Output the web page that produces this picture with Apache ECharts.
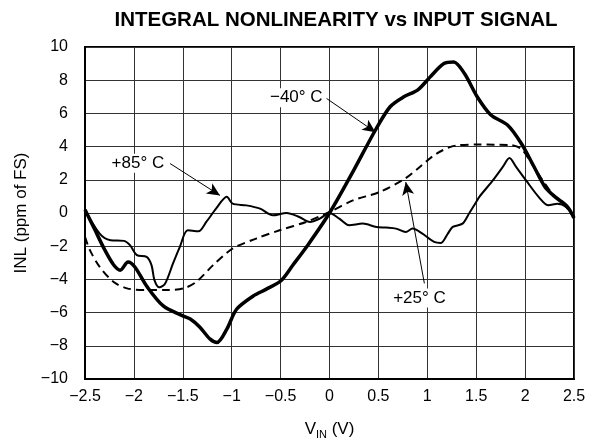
<!DOCTYPE html>
<html>
<head>
<meta charset="utf-8">
<script src="https://cdn.jsdelivr.net/npm/echarts@6/dist/echarts.min.js"></script>
<style>html,body{margin:0;padding:0;background:#fff}#c{width:600px;height:445px}</style>
</head>
<body>
<div id="c"></div>
<script>
// INL (ppm of FS) vs VIN (V)
const inlMinus40 = [[-2.5,0.2],[-2.4,-1.0],[-2.3,-2.2],[-2.21,-3.1],[-2.14,-3.45],[-2.06,-2.95],[-1.99,-3.25],[-1.87,-4.4],[-1.7,-5.6],[-1.5,-6.2],[-1.42,-6.4],[-1.33,-6.85],[-1.22,-7.6],[-1.15,-7.8],[-1.05,-7.0],[-0.95,-5.8],[-0.78,-5.0],[-0.65,-4.6],[-0.5,-4.1],[-0.37,-3.1],[-0.23,-2.0],[0,0],[0.25,2.6],[0.47,5.0],[0.62,6.4],[0.76,7.0],[0.9,7.4],[1.03,8.2],[1.17,9.0],[1.27,9.1],[1.38,8.4],[1.51,7.0],[1.65,5.9],[1.82,5.3],[1.96,4.2],[2.09,2.8],[2.2,1.6],[2.3,1.0],[2.43,0.4],[2.5,-0.3]];
const inlPlus85 = [[-2.5,0.2],[-2.35,-1.24],[-2.24,-1.64],[-2.1,-1.68],[-2.04,-1.94],[-1.97,-2.54],[-1.87,-2.64],[-1.82,-3.14],[-1.79,-4.04],[-1.74,-4.48],[-1.68,-4.24],[-1.6,-3.04],[-1.53,-2.04],[-1.45,-1.04],[-1.34,-1.1],[-1.26,-0.54],[-1.16,0.26],[-1.05,0.98],[-0.99,0.56],[-0.85,0.46],[-0.71,0.26],[-0.58,-0.14],[-0.44,0],[-0.31,-0.24],[-0.2,-0.54],[-0.1,-0.34],[0,0],[0.1,-0.34],[0.2,-0.74],[0.34,-0.64],[0.48,-0.84],[0.58,-0.88],[0.68,-0.94],[0.78,-1.14],[0.85,-0.94],[0.95,-1.24],[1.07,-1.74],[1.14,-1.8],[1.21,-1.24],[1.26,-0.84],[1.36,-0.64],[1.43,0],[1.5,0.66],[1.53,0.96],[1.67,1.96],[1.77,2.76],[1.84,3.32],[1.91,2.76],[2.01,1.96],[2.14,0.96],[2.24,0.46],[2.33,0.56],[2.42,0.36],[2.5,-0.3]];
const inlPlus25 = [[-2.5,-1.44],[-2.45,-2.24],[-2.35,-3.24],[-2.21,-4.14],[-2.07,-4.54],[-1.87,-4.64],[-1.66,-4.64],[-1.49,-4.54],[-1.36,-4.14],[-1.19,-3.14],[-0.99,-2.14],[-0.75,-1.54],[-0.51,-1.04],[-0.24,-0.54],[0,0.06],[0.24,0.76],[0.51,1.26],[0.77,2.06],[0.92,2.76],[1.09,3.56],[1.29,4.06],[1.53,4.12],[1.84,4.1],[1.96,3.86],[2.07,2.96],[2.18,1.96],[2.28,1.16],[2.42,0.36],[2.5,-0.3]];

// annotations: label text, label anchor [x,y], arrow start, arrow end (data units)
const annoText = ['\u221240\u00b0 C', '+85\u00b0 C', '+25\u00b0 C'];
const annoLabelAt = [[-0.05,6.95],[-1.67,3.0],[0.92,-5.12]];
const annoLabelPos = ['left','left','inside'];
const annoArrowFrom = [[-0.03,6.9],[-1.63,2.98],[0.97,-4.24]];
const annoArrowTo = [[0.47,4.87],[-1.12,1.06],[0.78,1.86]];

const FONT = 'Liberation Sans, Arial, Helvetica, sans-serif';
const fmt = v => String(v).replace('-', '\u2212');

const chart = echarts.init(document.getElementById('c'), null, {renderer:'canvas'});
chart.setOption({
  animation: false,
  backgroundColor: '#fff',
  title: {
    text: 'INTEGRAL NONLINEARITY vs INPUT SIGNAL',
    left: 331, top: 5, textAlign: 'center',
    textStyle: {fontFamily: FONT, fontSize: 20.5, fontWeight: 'bold', color: '#000'}
  },
  grid: {left: 85, right: 26, top: 47, bottom: 66, show: true, borderColor: '#000', borderWidth: 2, backgroundColor: 'transparent'},
  xAxis: {
    type: 'value', min: -2.5, max: 2.5, interval: 0.5,
    axisLine: {show: true, onZero: false, lineStyle: {color: '#000', width: 2}},
    axisTick: {show: false},
    splitLine: {show: true, lineStyle: {color: '#333', width: 1}},
    axisLabel: {fontFamily: FONT, fontSize: 16, color: '#000', margin: 10, formatter: fmt},
    name: '{v|V}{s|IN}{v| (V)}', nameLocation: 'middle', nameGap: 40,
    nameTextStyle: {fontFamily: FONT, color: '#000', rich: {
      v: {fontFamily: FONT, fontSize: 17, color: '#000'},
      s: {fontFamily: FONT, fontSize: 11, color: '#000', padding: [10, 0, 0, 0]}
    }}
  },
  yAxis: {
    type: 'value', min: -10, max: 10, interval: 2,
    axisLine: {show: true, onZero: false, lineStyle: {color: '#000', width: 2}},
    axisTick: {show: false},
    splitLine: {show: true, lineStyle: {color: '#333', width: 1}},
    axisLabel: {fontFamily: FONT, fontSize: 16, color: '#000', margin: 17, formatter: fmt},
    name: 'INL (ppm of FS)', nameLocation: 'middle', nameGap: 54,
    nameTextStyle: {fontFamily: FONT, fontSize: 17, color: '#000'}
  },
  series: [
    {type: 'line', name: '-40', data: inlMinus40, smooth: 0.3, showSymbol: false, symbol: 'none',
     lineStyle: {color: '#000', width: 3.5}, z: 3},
    {type: 'line', name: '+85', data: inlPlus85, smooth: 0.3, showSymbol: false, symbol: 'none',
     lineStyle: {color: '#000', width: 2}, z: 2},
    {type: 'line', name: '+25', data: inlPlus25, smooth: 0.3, showSymbol: false, symbol: 'none',
     lineStyle: {color: '#000', width: 2, type: [8, 5]}, z: 2,
     markLine: {
       silent: true, animation: false, symbol: ['none', 'arrow'], symbolSize: [9, 13],
       lineStyle: {color: '#000', width: 1, type: 'solid'}, label: {show: false},
       data: annoArrowFrom.map((p, i) => [{coord: p}, {coord: annoArrowTo[i]}])
     }},
    {type: 'scatter', data: annoLabelAt.map((p, i) => ({value: p, name: annoText[i],
       label: {position: annoLabelPos[i]}})),
     symbol: 'circle', symbolSize: 0, itemStyle: {color: '#000', opacity: 1}, z: 5, silent: true,
     label: {show: true, formatter: p => p.name, distance: 0, fontFamily: FONT, fontSize: 17,
       color: '#000', opacity: 1, backgroundColor: '#fff', padding: [1, 2]}}
  ]
});
</script>
</body>
</html>
